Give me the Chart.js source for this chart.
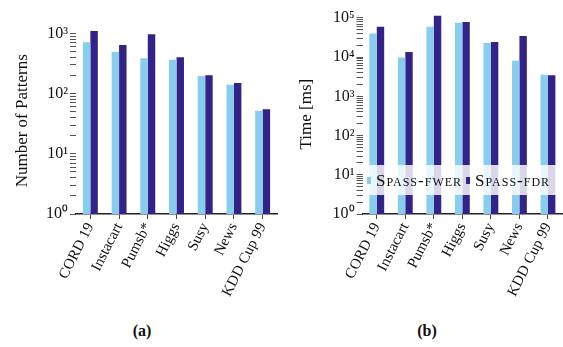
<!DOCTYPE html>
<html>
<head>
<meta charset="utf-8">
<script src="https://cdn.jsdelivr.net/npm/chart.js@4.4.1/dist/chart.umd.min.js"></script>
<style>
  html,body{margin:0;padding:0;background:#fff;overflow:hidden;width:563px;height:347px;}
  canvas{position:absolute;top:0;}
  #cA{left:0;} #cB{left:280px;}
  .cap{position:absolute;top:322px;font:bold 16px "Liberation Serif",serif;color:#111;width:40px;text-align:center;}
</style>
</head>
<body>
<canvas id="cA" width="280" height="320"></canvas>
<canvas id="cB" width="285" height="320"></canvas>
<div class="cap" style="left:122px">(a)</div>
<div class="cap" style="left:407px">(b)</div>
<script>
// data
const datasets     = ['CORD 19','Instacart','Pumsb*','Higgs','Susy','News','KDD Cup 99'];
const seriesNames  = ['Spass-fwer','Spass-fdr'];
const patternsFwer = [714, 498, 387, 367, 197, 141, 52];
const patternsFdr  = [1100, 644, 970, 402, 202, 150, 55];
const timeFwer     = [40200, 9800, 60000, 75900, 23000, 8150, 3580];
const timeFdr      = [60000, 13600, 114000, 79000, 24400, 34700, 3450];

const LIGHT='#88ccee', DARK='#332288';
const SERIF='"Liberation Serif", serif';
Chart.defaults.font.family = SERIF;
Chart.defaults.color = '#111';

const SUP = ['⁰','¹','²','³','⁴','⁵','⁶'];
const isPow = v => Math.abs(Math.log10(v) - Math.round(Math.log10(v))) < 1e-9;

function logTicks(max){
  const t=[];
  for(let e=0; Math.pow(10,e)<=max; e++)
    for(let k=1;k<10;k++){ const v=k*Math.pow(10,e); if(v<=max) t.push({value:v}); }
  return t;
}

// legend box drawn over the bars of the right panel
const legendPlugin = {
  id:'boxLegend',
  afterDraw(chart){
    const ctx=chart.ctx;
    ctx.save();
    ctx.fillStyle='rgba(255,255,255,0.82)';
    ctx.fillRect(85,165,200,30);
    ctx.font='small-caps 17px '+SERIF;
    ctx.letterSpacing='1px';
    ctx.textBaseline='alphabetic';
    let x=87;
    chart.data.datasets.forEach(ds=>{
      ctx.fillStyle=ds.backgroundColor;
      ctx.fillRect(x,177,4,7);
      x+=9;
      ctx.fillStyle='#111';
      ctx.fillText(ds.label,x,186);
      x+=ctx.measureText(ds.label).width+4;
    });
    ctx.restore();
  }
};

function makeChart(id, fwer, fdr, yMax, yTitle, pad, yWidth, titlePad, extra){
  return new Chart(document.getElementById(id),{
    type:'bar',
    plugins:extra?[extra]:[],
    data:{labels:datasets,datasets:[
      {label:seriesNames[0],data:fwer,backgroundColor:LIGHT,borderWidth:0},
      {label:seriesNames[1],data:fdr,backgroundColor:DARK,borderWidth:0}
    ]},
    options:{
      responsive:false,animation:false,
      layout:{padding:pad},
      datasets:{bar:{barPercentage:1,categoryPercentage:0.52}},
      plugins:{legend:{display:false},tooltip:{enabled:false}},
      scales:{
        x:{
          z:1,
          grid:{offset:false,drawOnChartArea:false,tickLength:5,tickColor:'#444',tickWidth:1},
          border:{color:'#222',width:1.6},
          ticks:{minRotation:63,maxRotation:63,padding:1,color:'#111',font:{size:15}},
          afterFit:s=>{ s.height=106; }
        },
        y:{
          type:'logarithmic',z:1,min:1,max:yMax,
          border:{display:false},
          grid:{
            color:c=>c.tick&&isPow(c.tick.value)?'rgba(255,255,255,0.85)':'rgba(0,0,0,0)',
            tickColor:'#555',tickLength:6,lineWidth:1
          },
          ticks:{autoSkip:false,padding:2,color:'#111',font:{size:16},
            callback:v=>isPow(v)?'10'+SUP[Math.round(Math.log10(v))]:''},
          afterBuildTicks:s=>{ s.ticks=logTicks(yMax); },
          title:{display:true,text:yTitle,font:{size:17},color:'#111',padding:{top:titlePad,bottom:0}},
          afterFit:s=>{ s.width=yWidth; }
        }
      }
    }
  });
}

makeChart('cA', patternsFwer, patternsFdr, 1250, 'Number of Patterns',
  {top:27.6,right:3,left:0,bottom:0}, 76, 12);
makeChart('cB', timeFwer, timeFdr, 125000, 'Time [ms]',
  {top:14.2,right:0,left:0,bottom:0}, 82.5, 16, legendPlugin);
</script>
</body>
</html>
